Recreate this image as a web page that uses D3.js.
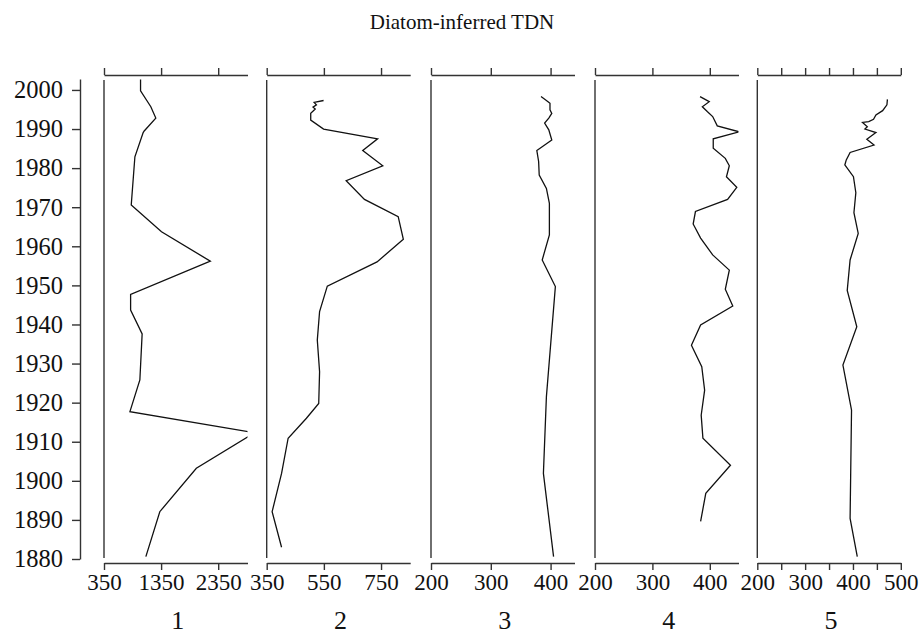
<!DOCTYPE html>
<html><head><meta charset="utf-8">
<script src="https://cdn.jsdelivr.net/npm/d3@7/dist/d3.min.js"></script>
<style>body{margin:0;background:#fff}svg{display:block}</style>
</head><body>
<script>
// ---- data ----
const panelNames = ["1","2","3","4","5"];
const years1 = [2002.7,1999.8,1995.7,1992.8,1989.5,1989.1,1982.9,1970.6,1963.7,1956.2,1947.7,1943.7,1937.6,1925.8,1917.7,1912.3,1903.2,1892.1,1880.6];
const values1 = [990,990,1170,1257,1054,1036,891,827,1357,2212,816,816,1018,978,804,2990,1967,1327,1083];
const years2 = [1997.3,1996.8,1996.2,1995.6,1995.1,1994.0,1992.3,1990.0,1987.5,1984.5,1980.6,1976.8,1972.0,1967.6,1961.8,1956.0,1949.8,1943.3,1936.0,1927.9,1919.8,1916.0,1910.9,1901.9,1892.1,1883.0];
const values2 = [549,516,524,512,520,504,504,549,738,686,756,628,692,810,828,736,562,535,527,535,532,489,425,402,369,402];
const years3 = [1998.3,1997.3,1996.6,1994.9,1994.0,1992.8,1991.5,1989.8,1987.2,1984.5,1981.7,1978.2,1974.8,1971.0,1962.9,1956.5,1949.7,1921.5,1901.9,1880.6];
const values3 = [384,393,399,399,402,397,390,397,402,377,380,381,393,398,398,386,408,393,388,405];
const years4 = [1998.3,1997.0,1995.7,1994.4,1993.2,1990.8,1989.3,1987.5,1985.1,1982.5,1980.6,1977.8,1975.1,1972.0,1968.9,1965.7,1962.1,1957.8,1953.9,1949.0,1944.7,1939.9,1934.7,1929.2,1923.2,1916.8,1910.9,1904.0,1896.8,1889.6];
const values4 = [383,399,387,396,405,413,451,406,406,427,434,429,447,431,375,371,384,405,434,427,440,384,368,386,391,385,388,436,393,384];
const years5 = [1997.6,1996.2,1994.7,1993.6,1992.5,1991.9,1991.7,1990.6,1990.0,1989.1,1987.4,1985.9,1984.0,1982.1,1980.8,1977.8,1973.7,1968.6,1963.3,1956.5,1948.7,1939.4,1929.6,1918.1,1890.4,1880.6];
const values5 = [472,471,462,448,443,433,420,430,425,448,429,444,394,386,383,401,406,402,411,394,388,408,379,397,394,409];
const domains = [[350,2863],[350,852],[200,440],[200,450],[200,500]];
const tickVals = [[350,1350,2350],[350,550,750],[200,300,400],[200,300,400],[200,250,300,350,400,450,500]];
const labelVals = [[350,1350,2350],[350,550,750],[200,300,400],[200,300,400],[200,300,400,500]];
const yearTicks = [1880,1890,1900,1910,1920,1930,1940,1950,1960,1970,1980,1990,2000];
const title = "Diatom-inferred TDN";

// ---- layout ----
const W = 924, H = 638;
const font = "'Liberation Serif','Times New Roman',serif";
const lefts = [104, 266.7, 431, 595, 757.3];
const pw = 143.5;
const yTop = 79, yBot = 559;
const axTop = 75, axBot = 563;

const svg = d3.select("body").append("svg").attr("width", W).attr("height", H);

svg.append("text").attr("x", 462).attr("y", 29).attr("text-anchor", "middle")
  .attr("font-family", font).attr("font-size", 21).attr("fill", "#111").text(title);

const y = d3.scaleLinear().domain([1880, 2002.8]).range([yBot, yTop]);

const yAx = svg.append("g").attr("transform", "translate(80,0)")
  .call(d3.axisLeft(y).tickValues(yearTicks).tickSize(8).tickSizeOuter(0).tickPadding(9).tickFormat(d3.format("d")));
yAx.selectAll("path,line").attr("stroke", "#333").attr("stroke-width", 1.4);
yAx.selectAll("text").attr("font-family", font).attr("font-size", 24.5).attr("fill", "#111");

const series = [[years1, values1],[years2, values2],[years3, values3],[years4, values4],[years5, values5]];

series.forEach((s, i) => {
  const x = d3.scaleLinear().domain(domains[i]).range([lefts[i], lefts[i] + pw]);
  const g = svg.append("g");
  const clipId = "clip" + i;
  svg.append("clipPath").attr("id", clipId).append("rect")
    .attr("x", lefts[i]).attr("y", yTop - 2).attr("width", pw).attr("height", yBot - yTop + 4);
  g.append("line").attr("x1", lefts[i]).attr("x2", lefts[i]).attr("y1", yTop + 1).attr("y2", yBot - 1)
    .attr("stroke", "#333").attr("stroke-width", 1.4);
  const ta = g.append("g").attr("transform", `translate(0,${axTop})`)
    .call(d3.axisTop(x).tickValues(tickVals[i]).tickSize(7).tickSizeOuter(0).tickFormat(""));
  ta.selectAll("path,line").attr("stroke", "#333").attr("stroke-width", 1.4);
  const ba = g.append("g").attr("transform", `translate(0,${axBot})`)
    .call(d3.axisBottom(x).tickValues(tickVals[i]).tickSize(7).tickSizeOuter(0).tickPadding(4)
      .tickFormat(d => labelVals[i].includes(d) ? String(d) : ""));
  ba.selectAll("path,line").attr("stroke", "#333").attr("stroke-width", 1.4);
  ba.selectAll("text").attr("font-family", font).attr("font-size", 23).attr("fill", "#111");
  const pts = s[0].map((yr, k) => [yr, s[1][k]]);
  g.append("path").datum(pts).attr("clip-path", `url(#${clipId})`)
    .attr("fill", "none").attr("stroke", "#111").attr("stroke-width", 1.3).attr("stroke-linejoin", "miter")
    .attr("d", d3.line().x(d => x(d[1])).y(d => y(d[0])));
  g.append("text").attr("x", lefts[i] + pw / 2 + 2).attr("y", 629).attr("text-anchor", "middle")
    .attr("font-family", font).attr("font-size", 26).attr("fill", "#111").text(panelNames[i]);
});
</script>
</body></html>
